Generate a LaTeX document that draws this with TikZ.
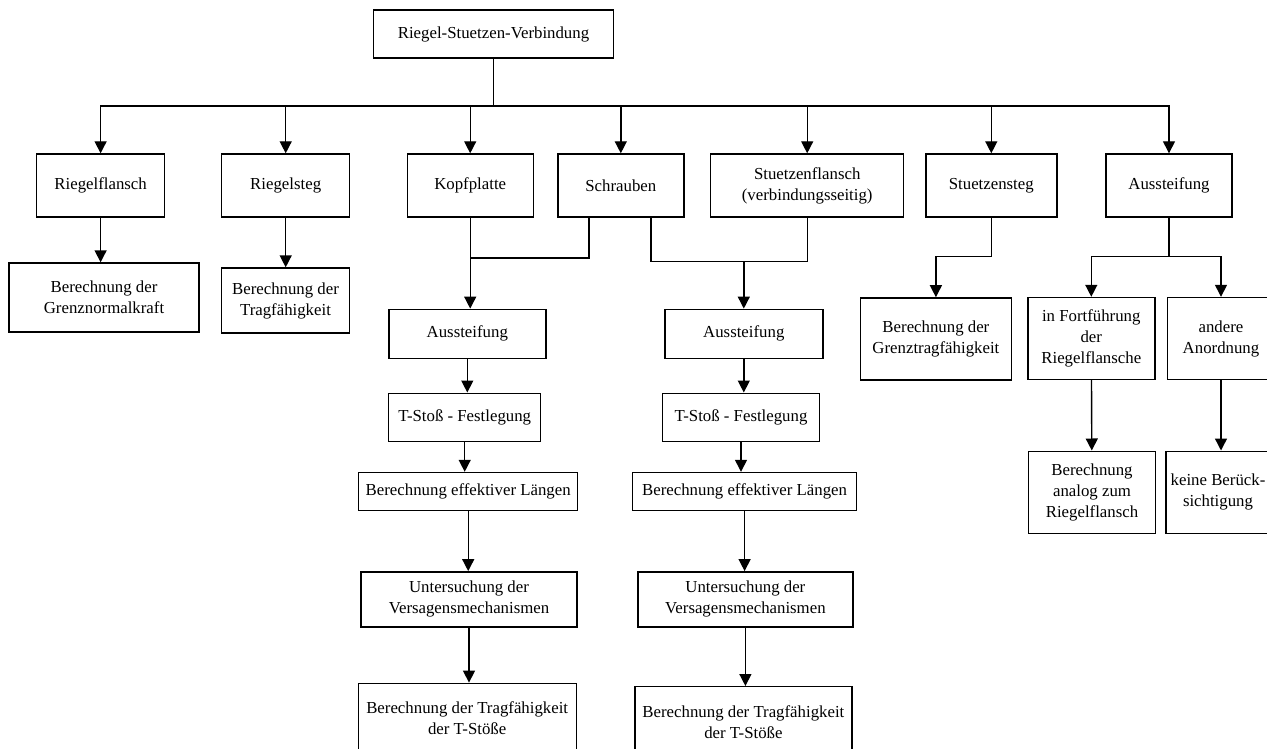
\documentclass[tikz,border=0pt]{standalone}
\usepackage{fontspec}
\setmainfont{Liberation Serif}
\usetikzlibrary{arrows.meta}
\tikzset{
  box/.style={
    rectangle,
    draw=black,
    line width=1.4pt,
    align=center,
    inner sep=2pt,
    font=\fontsize{16.8}{21}\selectfont,
    minimum height=63pt
  },
  link/.style={line width=1.4pt, draw=black},
  arrow/.style={-{Triangle[length=12pt,width=12pt]}, line width=1.4pt, draw=black}
}

\begin{document}
\begin{tikzpicture}[x=1pt, y=-1pt]
  \path[use as bounding box, fill=white] (0,0) rectangle (1267,749);

  % top and first row
  \node[box, minimum width=240pt, minimum height=48pt] (top) at (493.5,34) {Riegel-Stuetzen-Verbindung};
  \node[box, minimum width=128pt] (rflansch) at (100.6,185.5) {Riegelflansch};
  \node[box, minimum width=128pt] (rsteg) at (285.7,185.5) {Riegelsteg};
  \node[box, minimum width=126pt] (kopf) at (470.2,185.5) {Kopfplatte};
  \node[box, minimum width=126pt] (schr) at (620.8,185.5) {Schrauben};
  \node[box, minimum width=193pt] (sflansch) at (807.2,185.5) {Stuetzenflansch\\(verbindungsseitig)};
  \node[box, minimum width=131pt] (ssteg) at (991.3,185.5) {Stuetzensteg};
  \node[box, minimum width=126pt] (aus) at (1169,185.5) {Aussteifung};

  % under Riegelflansch / Riegelsteg
  \node[box, minimum width=190pt, minimum height=69pt] (grenzn) at (104,297.5) {Berechnung der\\Grenznormalkraft};
  \node[box, minimum width=128pt, minimum height=65pt] (rtrag) at (285.5,300.5) {Berechnung der\\Tragfähigkeit};

  % left column (Kopfplatte + Schrauben)
  \node[box, minimum width=157pt, minimum height=49pt] (ausL) at (467.3,333.8) {Aussteifung};
  \node[box, minimum width=152pt, minimum height=48pt] (tstossL) at (464.7,417.2) {T-Stoß - Festlegung};
  \node[box, minimum width=219pt, minimum height=38pt] (efflL) at (468.2,491.5) {Berechnung effektiver Längen};
  \node[box, minimum width=216pt, minimum height=55pt] (untL) at (469,599.3) {Untersuchung der\\Versagensmechanismen};
  \node[box, minimum width=218pt, minimum height=70pt] (tragL) at (467.2,718.3) {Berechnung der Tragfähigkeit\\der T-Stöße};

  % right column (Schrauben + Stuetzenflansch)
  \node[box, minimum width=158pt, minimum height=49pt] (ausR) at (743.8,333.8) {Aussteifung};
  \node[box, minimum width=157pt, minimum height=48pt] (tstossR) at (741,417.2) {T-Stoß - Festlegung};
  \node[box, minimum width=224pt, minimum height=38pt] (efflR) at (744.6,491.5) {Berechnung effektiver Längen};
  \node[box, minimum width=215pt, minimum height=55pt] (untR) at (745.4,599.3) {Untersuchung der\\Versagensmechanismen};
  \node[box, minimum width=217pt, minimum height=70pt] (tragR) at (743.4,721.7) {Berechnung der Tragfähigkeit\\der T-Stöße};

  % Stuetzensteg and Aussteifung
  \node[box, minimum width=151pt, minimum height=82pt] (grenzt) at (935.9,338.9) {Berechnung der\\Grenztragfähigkeit};
  \node[box, minimum width=127pt, minimum height=82pt] (fortf) at (1091.3,338.5) {in Fortführung\\der\\Riegelflansche};
  \node[box, minimum width=107pt, minimum height=82pt] (andere) at (1221,338.5) {andere\\Anordnung};
  \node[box, minimum width=127pt, minimum height=82pt] (analog) at (1092,492.2) {Berechnung\\analog zum\\Riegelflansch};
  \node[box, minimum width=104pt, minimum height=82pt] (keine) at (1218,492.2) {keine Berück-\\sichtigung};

  % connectors
  \coordinate (bus) at (493.5,106);
  \draw[link] (top) -- (bus);
  \foreach \n in {rflansch,rsteg,kopf,schr,sflansch,ssteg,aus}
    \draw[arrow] (bus) -| (\n.north);

  \draw[arrow] (rflansch.south) -- (rflansch.south |- grenzn.north);
  \draw[arrow] (rsteg.south) -- (rsteg.south |- rtrag.north);

  \coordinate (jL) at (470.2,258);
  \draw[link] (kopf.south) -- (jL);
  \draw[link] ([xshift=-32pt]schr.south) |- (jL);
  \draw[arrow] (jL) -- (jL |- ausL.north);

  \coordinate (jR) at (743.8,261.7);
  \draw[link] ([xshift=30pt]schr.south) |- (sflansch.south |- jR) -- (sflansch.south);
  \draw[arrow] (jR) -- (jR |- ausR.north);

  \foreach \a/\b in {ausL/tstossL, tstossL/efflL, efflL/untL, untL/tragL,
                     ausR/tstossR, tstossR/efflR, efflR/untR, untR/tragR}
    \draw[arrow] (\a.south) -- (\a.south |- \b.north);

  \draw[arrow] (ssteg.south) -- ++(0,39) -| (grenzt.north);
  \draw[arrow] (aus.south) -- ++(0,39) -| (fortf.north);
  \draw[arrow] (aus.south) -- ++(0,39) -| (andere.north);
  \draw[arrow] (fortf) -- (analog);
  \draw[arrow] (andere.south) -- (andere.south |- keine.north);
\end{tikzpicture}
\end{document}
